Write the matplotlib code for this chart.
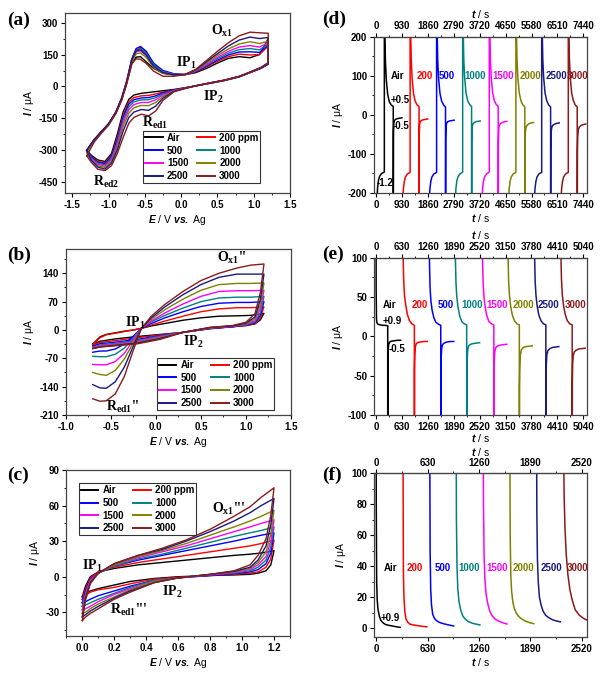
import matplotlib.pyplot as plt
import numpy as np
from matplotlib.ticker import AutoMinorLocator, FormatStrFormatter

plt.rcParams['font.family'] = 'Liberation Sans'
plt.rcParams['font.weight'] = 'bold'
plt.rcParams['axes.unicode_minus'] = False
plt.rcParams['mathtext.fontset'] = 'custom'
plt.rcParams['mathtext.it'] = 'Liberation Sans:italic:bold'
plt.rcParams['mathtext.rm'] = 'Liberation Sans:bold'
plt.rcParams['mathtext.bf'] = 'Liberation Sans:bold'

# series names / colours (Origin palette)
names = ["Air", "200 ppm", "500", "1000", "1500", "2000", "2500", "3000"]
short = ["Air", "200", "500", "1000", "1500", "2000", "2500", "3000"]
colors = ["#000000", "#ff0000", "#0000ff", "#008080", "#ff00ff", "#808000", "#1a1a80", "#8b1a1a"]

# ---------------- (a) CV, -1.3 .. 1.2 V ----------------
E_fwd_a = [-1.30, -1.20, -1.10, -1.00, -0.90, -0.82, -0.75, -0.68, -0.62, -0.56, -0.48, -0.38,
           -0.25, -0.10, 0.05, 0.20, 0.35, 0.50, 0.65, 0.80, 0.95, 1.08, 1.20]
I_fwd_a = [
    [-300, -252, -215, -178, -125, -62, 15, 105, 138, 140, 115, 85, 62, 55, 55, 65, 85, 110, 132, 140, 135, 150, 225],
    [-302, -252, -213, -176, -122, -58, 22, 125, 172, 184, 160, 105, 72, 58, 56, 68, 92, 118, 140, 152, 148, 150, 190],
    [-298, -250, -212, -175, -120, -55, 25, 130, 178, 188, 165, 110, 75, 60, 56, 70, 96, 124, 148, 162, 163, 160, 195],
    [-304, -253, -214, -177, -122, -58, 22, 125, 170, 178, 155, 102, 70, 58, 56, 72, 100, 130, 156, 173, 178, 172, 200],
    [-306, -255, -216, -178, -124, -60, 20, 120, 162, 168, 145, 95, 66, 56, 56, 74, 104, 137, 165, 185, 192, 185, 205],
    [-310, -256, -217, -179, -125, -62, 18, 115, 153, 158, 136, 88, 62, 54, 56, 76, 110, 145, 176, 200, 210, 202, 212],
    [-300, -250, -212, -175, -120, -56, 24, 125, 168, 172, 148, 95, 65, 55, 56, 78, 116, 154, 190, 218, 232, 225, 230],
    [-325, -262, -220, -182, -128, -66, 12, 108, 130, 128, 108, 72, 48, 48, 56, 80, 122, 165, 205, 238, 255, 252, 250],
]
E_rev_a = [1.20, 1.10, 0.95, 0.80, 0.60, 0.40, 0.20, 0.05, -0.10, -0.25, -0.35, -0.45, -0.55,
           -0.65, -0.72, -0.80, -0.88, -0.96, -1.05, -1.15, -1.24, -1.30]
I_rev_a = [
    [105, 85, 65, 45, 28, 15, 3, -6, -14, -20, -24, -28, -32, -40, -60, -120, -225, -315, -352, -345, -322, -300],
    [108, 87, 66, 46, 29, 16, 3, -7, -16, -26, -35, -42, -44, -52, -72, -135, -240, -325, -358, -352, -328, -302],
    [106, 86, 66, 46, 29, 16, 3, -7, -17, -30, -44, -52, -54, -62, -82, -145, -250, -330, -362, -356, -330, -298],
    [108, 87, 66, 46, 29, 16, 3, -8, -19, -35, -52, -62, -63, -72, -95, -158, -262, -338, -368, -360, -335, -304],
    [110, 88, 67, 47, 30, 16, 3, -8, -20, -40, -62, -75, -75, -85, -108, -172, -272, -345, -374, -366, -340, -306],
    [110, 89, 67, 47, 30, 17, 3, -9, -22, -47, -75, -90, -89, -100, -125, -188, -285, -352, -380, -372, -346, -310],
    [108, 88, 67, 47, 30, 17, 3, -9, -23, -55, -92, -112, -108, -120, -145, -210, -298, -360, -388, -378, -345, -300],
    [112, 90, 68, 48, 30, 17, 3, -10, -25, -65, -115, -138, -130, -145, -172, -240, -315, -372, -395, -388, -355, -325],
]

# ---------------- (b) CV, -0.7 .. 1.2 V ----------------
E_fwd_b = [-0.70, -0.62, -0.55, -0.45, -0.35, -0.25, -0.16, -0.05, 0.10, 0.30, 0.50, 0.70, 0.90, 1.05, 1.20]
I_fwd_b = [
    [-35, -17, -11, -7, -3, 0, 4, 10, 16, 24, 30, 34, 35, 36, 41],
    [-37, -19, -12, -8, -4, 0, 4, 12, 22, 34, 45, 52, 55, 55, 57],
    [-55, -52, -52, -47, -35, -15, 4, 16, 30, 45, 58, 66, 68, 68, 70],
    [-65, -66, -66, -60, -45, -20, 4, 20, 36, 54, 70, 79, 81, 81, 83],
    [-85, -86, -86, -78, -58, -25, 4, 22, 42, 64, 83, 95, 97, 97, 98],
    [-105, -110, -112, -100, -72, -32, 4, 26, 50, 76, 98, 112, 115, 115, 116],
    [-135, -143, -144, -128, -92, -40, 4, 30, 57, 87, 112, 130, 138, 138, 138],
    [-170, -176, -175, -158, -115, -50, 4, 34, 63, 95, 122, 140, 153, 160, 163],
]
E_rev_b = [1.20, 1.16, 1.10, 1.00, 0.85, 0.60, 0.30, 0.05, -0.20, -0.45, -0.62, -0.70]
I_rev_b = [
    [41, 25, 15, 11, 8, 3, -6, -11, -16, -22, -28, -35],
    [57, 30, 16, 11, 8, 3.5, -6, -12, -19, -26, -31, -37],
    [70, 36, 18, 12, 8, 4, -6, -14, -23, -30, -34, -40],
    [83, 42, 20, 13, 9, 4.5, -6, -15, -26, -33, -37, -42],
    [98, 52, 23, 14, 9, 5, -6, -17, -28, -35, -39, -44],
    [116, 62, 27, 15, 10, 5.5, -6, -19, -30, -37, -41, -45],
    [138, 75, 32, 17, 10, 6, -6, -21, -32, -38, -42, -46],
    [163, 92, 40, 19, 11, 6.5, -6, -23, -34, -39, -42, -46],
]

# ---------------- (c) CV, 0 .. 1.2 V ----------------
E_fwd_c = [0.00, 0.02, 0.05, 0.10, 0.20, 0.35, 0.50, 0.65, 0.80, 0.95, 1.05, 1.12, 1.20]
I_fwd_c = [
    [-17, -8, 0, 4, 7, 10, 12, 14, 16, 18, 19, 20, 22],
    [-19, -10, -1, 4, 8, 12, 15, 18, 21, 24, 26, 28, 31],
    [-22, -12, -2, 3, 9, 14, 18, 22, 26, 30, 33, 35, 37],
    [-25, -14, -3, 3, 9, 15, 19, 24, 29, 34, 37, 39, 42],
    [-28, -15, -3, 3, 10, 16, 21, 26, 32, 38, 42, 45, 48],
    [-31, -17, -4, 3, 10, 17, 22, 28, 35, 42, 47, 51, 56],
    [-34, -18, -5, 3, 11, 18, 23, 30, 38, 47, 54, 60, 66],
    [-37, -20, -6, 3, 11, 18, 24, 31, 40, 51, 59, 67, 75],
]
E_rev_c = [1.20, 1.18, 1.15, 1.10, 1.05, 0.95, 0.80, 0.60, 0.45, 0.30, 0.20, 0.10, 0.05, 0.02, 0.00]
I_rev_c = [
    [22, 10, 5, 3, 2, 1.5, 1, 0, -1.5, -4, -7, -10, -12, -14, -17],
    [31, 15, 8, 4, 3, 2, 1, -0.5, -2, -6, -9, -11, -13, -16, -19],
    [37, 20, 11, 6, 4, 2.5, 1, -1, -3, -8, -12, -16, -19, -21, -22],
    [42, 25, 14, 8, 5, 3, 1.5, -1, -3, -9, -14, -19, -22, -24, -25],
    [48, 30, 17, 10, 6, 3.5, 1.5, -1, -4, -10, -15, -21, -25, -27, -28],
    [56, 36, 21, 12, 7, 4, 2, -1, -4, -11, -17, -23, -27, -30, -31],
    [66, 44, 26, 14, 8, 4.5, 2, -1, -5, -12, -18, -25, -29, -32, -34],
    [75, 52, 32, 18, 10, 5, 2, -1, -5, -13, -19, -27, -31, -34, -37],
]

# ---------------- (d) CA: -1.2 / +0.5 / -0.5 V ----------------
starts_d = [0, 925, 1875, 2810, 3765, 4720, 5645, 6600]
t_rel_d = [0, 40, 60, 90, 130, 200, 300, 300, 310, 320, 340, 370, 420, 480, 550, 620,
           620, 628, 640, 660, 700, 770, 850, 930]
I_d = [
    [-400, -210, -185, -168, -158, -151, -147, 600, 320, 200, 135, 90, 52, 33, 25, 21, -400, -45, -22, -15, -12, -10, -9, -8],
    [-400, -215, -190, -172, -160, -152, -148, 600, 330, 210, 140, 95, 55, 35, 25, 21, -400, -50, -26, -18, -15, -13, -12, -11],
    [-400, -215, -190, -172, -160, -152, -148, 600, 330, 210, 140, 95, 55, 35, 25, 20, -400, -60, -30, -22, -18, -16, -15, -14],
    [-400, -212, -188, -170, -160, -152, -147, 600, 330, 210, 142, 96, 56, 36, 26, 21, -400, -65, -34, -25, -21, -18, -17, -16],
    [-400, -214, -189, -171, -160, -152, -147, 600, 330, 210, 142, 96, 56, 36, 26, 21, -400, -70, -36, -27, -23, -20, -18, -17],
    [-400, -214, -189, -171, -160, -152, -148, 600, 330, 210, 142, 96, 56, 36, 25, 20, -400, -85, -45, -33, -27, -23, -21, -20],
    [-400, -215, -190, -172, -160, -152, -148, 600, 330, 210, 142, 96, 56, 36, 25, 20, -400, -85, -45, -33, -27, -24, -22, -21],
    [-400, -215, -190, -172, -160, -152, -148, 600, 330, 210, 142, 96, 56, 36, 25, 20, -400, -95, -55, -38, -31, -27, -25, -24],
]

# ---------------- (e) CA: +0.9 / -0.5 V ----------------
starts_e = [0, 648, 1290, 1920, 2580, 3200, 3845, 4485]
t_rel_e = [0, 4, 12, 25, 45, 75, 115, 165, 225, 285, 285, 289, 297, 310, 335, 385, 455, 535, 600]
I_e = [
    [300, 60, 22, 17, 15.5, 15, 14.5, 14, 14, 13.5, -300, -30, -17, -10, -7, -6, -5.5, -5, -5],
    [300, 150, 100, 72, 52, 40, 28, 20, 16, 14, -300, -40, -22, -13, -9, -7.5, -7, -6.5, -6.5],
    [300, 140, 90, 62, 45, 33, 24, 18, 15.5, 14, -300, -45, -25, -14, -10, -8, -7, -6.5, -6.5],
    [300, 150, 95, 68, 50, 37, 26, 19, 16, 14.5, -300, -50, -30, -17, -12, -10, -9, -8.5, -8],
    [300, 150, 95, 68, 50, 37, 26, 19, 16, 14.5, -300, -52, -30, -19, -14, -12, -11, -10.5, -10],
    [300, 150, 100, 70, 52, 38, 27, 20, 16, 14.5, -300, -65, -40, -24, -17, -14, -13, -12.5, -12],
    [300, 150, 100, 70, 52, 38, 27, 20, 16, 14.5, -300, -60, -35, -23, -18, -15.5, -14, -13.5, -13],
    [300, 150, 100, 72, 53, 39, 28, 20, 16, 14.5, -300, -60, -35, -25, -20, -17.5, -16, -15.5, -15],
]

# ---------------- (f) CA: +0.9 V ----------------
starts_f = [0, 327, 654, 976, 1307, 1634, 1960, 2287]
t_rel_f = [0, 3, 8, 15, 25, 40, 60, 85, 115, 150, 200, 250, 295]
I_f = [
    [300, 80, 30, 18, 12, 8, 5, 3.6, 2.5, 2, 1.5, 1, 0.6],
    [300, 120, 36, 20, 11, 6, 4, 2.8, 2.3, 2, 1.6, 1.2, 1],
    [300, 130, 50, 25, 15, 9, 6.5, 5, 4, 3.3, 2.6, 2, 1.5],
    [300, 150, 70, 40, 25, 17, 12, 8, 6, 4.5, 3.3, 2.7, 2.2],
    [300, 160, 80, 48, 32, 22, 16, 11, 8, 6, 4.5, 3.5, 2.8],
    [300, 130, 60, 35, 24, 17, 12.5, 9.5, 7.5, 6, 4.5, 3.6, 3],
    [300, 150, 75, 45, 30, 20, 15, 11, 8.5, 7, 5.5, 4.7, 4.2],
    [300, 200, 120, 85, 65, 48, 35, 25, 18, 12, 8.5, 6.5, 5.3],
]

fig = plt.figure(figsize=(6.04, 6.73), dpi=100)
W, H = 604.0, 673.0


def add_ax(l, t, r, b):
    return fig.add_axes([l / W, 1 - b / H, (r - l) / W, (b - t) / H])


def style(ax, xlim, ylim, xt, yt, xfmt=None):
    ax.set_xlim(xlim)
    ax.set_ylim(ylim)
    ax.set_xticks(xt)
    ax.set_yticks(yt)
    if xfmt:
        ax.xaxis.set_major_formatter(FormatStrFormatter(xfmt))
    ax.xaxis.set_minor_locator(AutoMinorLocator(2))
    ax.yaxis.set_minor_locator(AutoMinorLocator(2))
    ax.tick_params(labelsize=7, width=0.8, length=3, pad=2)
    ax.tick_params(which='minor', length=1.6, width=0.6)
    for s in ax.spines.values():
        s.set_linewidth(0.9)
        s.set_color('#444444')
    ax.set_ylabel(r'$I$ / μA', fontsize=7.5, labelpad=2)


def serif_label(ax, x, y, s):
    ax.text(x, y, s, family='Liberation Serif', weight='bold', fontsize=10, ha='center', va='center')


def cv_panel(ax, Ef, If, Er, Ir):
    for k in range(8):
        E = np.concatenate([Ef, Er])
        I = np.concatenate([If[k], Ir[k]])
        ax.plot(E, I, color=colors[k], lw=1.0, label=names[k])
    h, l = ax.get_legend_handles_labels()
    order = [0, 2, 4, 6, 1, 3, 5, 7]
    return [h[i] for i in order], [l[i] for i in order]


def cv_legend(ax, h, l, loc, anchor):
    leg = ax.legend(h, l, ncol=2, loc=loc, bbox_to_anchor=anchor, fontsize=7, frameon=True,
                    fancybox=False, edgecolor='#333333', framealpha=1, borderpad=0.2,
                    labelspacing=0.28, handlelength=1.8, handletextpad=0.45, columnspacing=0.9,
                    borderaxespad=0)
    leg.get_frame().set_linewidth(0.8)
    for ln in leg.get_lines():
        ln.set_linewidth(1.4)


# (a)
ax = add_ax(65, 13, 290, 193)
h, l = cv_panel(ax, E_fwd_a, I_fwd_a, E_rev_a, I_rev_a)
style(ax, (-1.6, 1.5), (-500, 345), np.arange(-1.5, 1.51, 0.5), [-450, -300, -150, 0, 150, 300], '%.1f')
ax.set_xlabel(r'$E$ / V $vs.$ Ag', fontsize=7.5, labelpad=2)
cv_legend(ax, h, l, 'lower left', (0.347, 0.056))
serif_label(ax, 0.57, 260, r'O$_{\mathregular{x1}}$')
serif_label(ax, 0.07, 112, r'IP$_{\mathregular{1}}$')
serif_label(ax, 0.44, -49, r'IP$_{\mathregular{2}}$')
serif_label(ax, -0.36, -171, r'R$_{\mathregular{ed1}}$')
serif_label(ax, -1.04, -447, r'R$_{\mathregular{ed2}}$')

# (b)
ax = add_ax(65.7, 249, 291, 415)
h, l = cv_panel(ax, E_fwd_b, I_fwd_b, E_rev_b, I_rev_b)
style(ax, (-1.0, 1.5), (-210, 200), np.arange(-1.0, 1.51, 0.5), [-210, -140, -70, 0, 70, 140], '%.1f')
ax.set_xlabel(r'$E$ / V $vs.$ Ag', fontsize=7.5, labelpad=2)
cv_legend(ax, h, l, 'lower left', (0.405, 0.03))
serif_label(ax, 0.84, 178, r"O$_{\mathregular{x1}}$''")
serif_label(ax, -0.23, 17, r'IP$_{\mathregular{1}}$')
serif_label(ax, 0.42, -30, r'IP$_{\mathregular{2}}$')
serif_label(ax, -0.36, -190, r"R$_{\mathregular{ed1}}$''")

# (c)
ax = add_ax(66.3, 470, 290, 636)
h, l = cv_panel(ax, E_fwd_c, I_fwd_c, E_rev_c, I_rev_c)
style(ax, (-0.1, 1.3), (-50, 90), np.arange(0, 1.21, 0.2), [-30, 0, 30, 60, 90], '%.1f')
ax.set_xlabel(r'$E$ / V $vs.$ Ag', fontsize=7.5, labelpad=2)
cv_legend(ax, h, l, 'upper left', (0.057, 0.92))
serif_label(ax, 0.92, 57, r"O$_{\mathregular{x1}}$'''")
serif_label(ax, 0.06, 9, r'IP$_{\mathregular{1}}$')
serif_label(ax, 0.56, -13, r'IP$_{\mathregular{2}}$')
serif_label(ax, 0.29, -28, r"R$_{\mathregular{ed1}}$'''")


def ca_panel(ax, starts, t_rel, I, xlim, ylim, xt, yt, tag_y, tag_x, bpad=2, tpad=2):
    for k in range(8):
        ax.plot(np.array(t_rel) + starts[k], I[k], color=colors[k], lw=1.1)
        ax.text(tag_x[k], tag_y, short[k], color=colors[k], fontsize=7, ha='center', va='center')
    style(ax, xlim, ylim, xt, yt)
    ax.set_xlabel(r'$t$ / s', fontsize=7.5, labelpad=bpad)
    top = ax.secondary_xaxis('top')
    top.set_xticks(xt)
    top.xaxis.set_minor_locator(AutoMinorLocator(2))
    top.tick_params(labelsize=7, width=0.8, length=3, pad=1)
    top.tick_params(which='minor', length=1.6, width=0.6)
    top.set_xlabel(r'$t$ / s', fontsize=7.5, labelpad=tpad)


# (d)
ax = add_ax(374.3, 36.7, 586.7, 192.7)
ca_panel(ax, starts_d, t_rel_d, I_d, (-60, 7560), (-200, 200), np.arange(0, 7441, 930),
         [-200, -100, 0, 100, 200], 100, [770, 1740, 2540, 3550, 4570, 5530, 6470, 7230])
ax.text(861, 38, '+0.5', fontsize=7, ha='center', va='center')
ax.text(900, -29, '-0.5', fontsize=7, ha='center', va='center')
ax.text(341, -174, '-1.2', fontsize=7, ha='center', va='center')

# (e)
ax = add_ax(374.3, 257.7, 586.7, 415)
ca_panel(ax, starts_e, t_rel_e, I_e, (-41, 5123), (-100, 100), np.arange(0, 5041, 630),
         [-100, -50, 0, 50, 100], 40, [340, 1057, 1690, 2346, 2934, 3582, 4189, 4858], bpad=0)
ax.text(401, 19, '+0.9', fontsize=7, ha='center', va='center')
ax.text(523, -16, '-0.5', fontsize=7, ha='center', va='center')

# (f)
ax = add_ax(374.3, 473.3, 586.7, 636.7)
ca_panel(ax, starts_f, t_rel_f, I_f, (-21, 2578), (-5.4, 100), np.arange(0, 2521, 630),
         [0, 20, 40, 60, 80, 100], 38.7, [178, 478, 815, 1145, 1476, 1806, 2144, 2468], tpad=1)
ax.text(178, 6.5, '+0.9', fontsize=7, ha='center', va='center')

# panel tags
for tag, x, y in [('(a)', 7, 20), ('(b)', 7, 255.5), ('(c)', 7, 475.5),
                  ('(d)', 322, 19), ('(e)', 322, 254.5), ('(f)', 322, 475.5)]:
    fig.text(x / W, 1 - y / H, tag, family='Liberation Serif', weight='bold', fontsize=14,
             ha='left', va='center')

fig.savefig('out.png', dpi=100)
